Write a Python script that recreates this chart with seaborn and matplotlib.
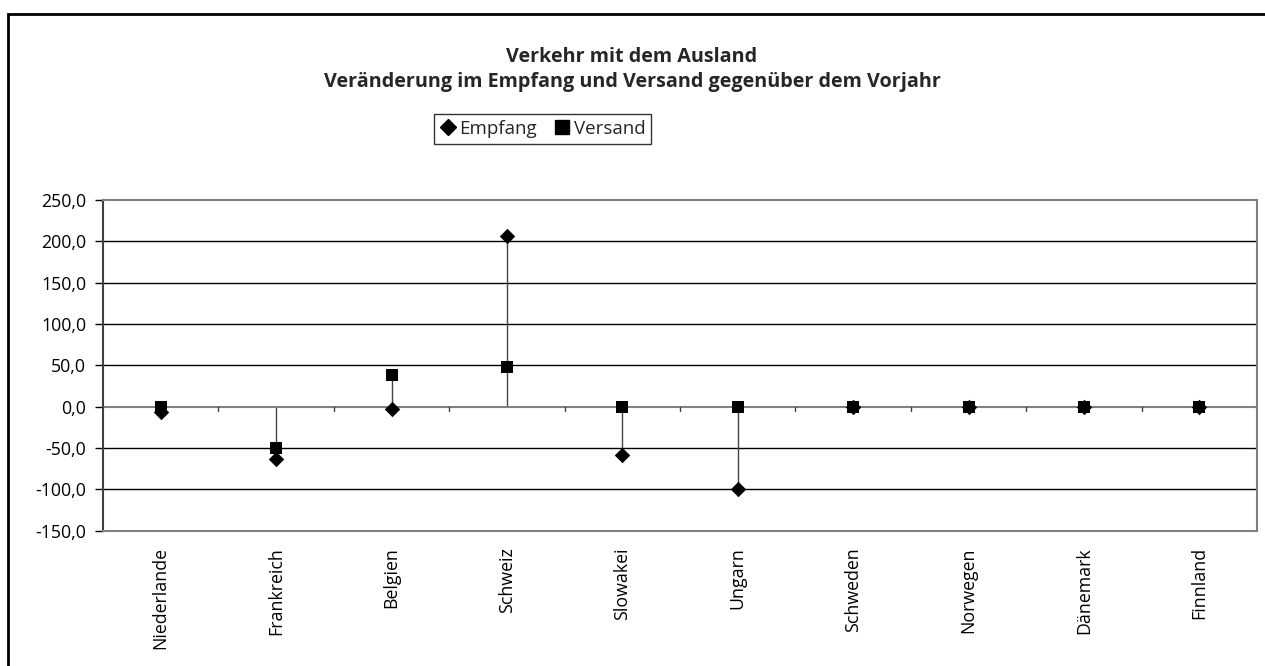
import matplotlib
matplotlib.use("Agg")
import matplotlib.pyplot as plt
from matplotlib.patches import Rectangle
from matplotlib.lines import Line2D
from matplotlib.ticker import FuncFormatter
import seaborn as sns
import pandas as pd
import numpy as np

countries = ["Niederlande", "Frankreich", "Belgien", "Schweiz", "Slowakei",
             "Ungarn", "Schweden", "Norwegen", "Dänemark", "Finnland"]
empfang = [-7, -63, -3, 206, -59, -100, 0, 0, 0, 0]
versand = [-1, -50, 38, 48, 0, 0, 0, 0, 0, 0]
y_ticks = [-150, -100, -50, 0, 50, 100, 150, 200, 250]
title_lines = ["Verkehr mit dem Ausland",
               "Veränderung im Empfang und Versand gegenüber dem Vorjahr"]

sns.set_theme(style="white")
plt.rcParams["font.family"] = ["Open Sans", "DejaVu Sans"]

df = pd.DataFrame({
    "Land": countries * 2,
    "pos": list(range(len(countries))) * 2,
    "Wert": empfang + versand,
    "Serie": ["Empfang"] * len(countries) + ["Versand"] * len(countries),
})

W, H = 1265, 666
fig = plt.figure(figsize=(W / 100, H / 100), dpi=100)
ax = fig.add_axes([103 / W, 1 - 530.5 / H, (1257 - 103) / W, (530.5 - 200) / H])

# grid
for t in y_ticks[1:-1]:
    if t != 0:
        ax.axhline(t, color="black", lw=1.0, zorder=0)

# high-low lines (including zero)
lows = np.minimum(np.minimum(empfang, versand), 0)
highs = np.maximum(np.maximum(empfang, versand), 0)
ax.vlines(range(len(countries)), lows, highs, color="#444444", lw=1.0, zorder=1)

# zero line (category axis) with boundary ticks
ax.axhline(0, color="#808080", lw=1.5, zorder=1)
for b in np.arange(0.5, len(countries) - 0.5, 1.0):
    ax.plot([b, b], [0, -5], color="#404040", lw=1.0, zorder=1)

sns.scatterplot(data=df[df.Serie == "Empfang"], x="pos", y="Wert", marker="D",
                s=62, color="black", edgecolor="black", linewidth=0, ax=ax, zorder=3,
                legend=False)
sns.scatterplot(data=df[df.Serie == "Versand"], x="pos", y="Wert", marker="s",
                s=72, color="black", edgecolor="black", linewidth=0, ax=ax, zorder=4,
                legend=False)

ax.set_xlim(-0.5, len(countries) - 0.5)
ax.set_ylim(-150, 250)
ax.set_xlabel("")
ax.set_ylabel("")
ax.set_yticks(y_ticks)
ax.yaxis.set_major_formatter(FuncFormatter(lambda v, p: f"{v:.1f}".replace(".", ",")))
ax.tick_params(axis="y", direction="out", length=6, width=1, color="black",
               labelsize=12.8, pad=6, left=True, labelcolor="black")
ax.set_xticks(range(len(countries)))
ax.set_xticklabels(countries, rotation=90, va="top", ha="center")
ax.tick_params(axis="x", length=0, pad=12, labelsize=12.8, labelcolor="black")

for s in ["top", "right", "bottom"]:
    ax.spines[s].set_color("#808080")
    ax.spines[s].set_linewidth(1.5)
ax.spines["left"].set_color("#404040")
ax.spines["left"].set_linewidth(1.5)

# titles
fig.text(632 / W, 1 - 62 / H, title_lines[0], ha="center", va="baseline",
         fontsize=14.2, fontweight="bold")
fig.text(632 / W, 1 - 87 / H, title_lines[1], ha="center", va="baseline",
         fontsize=14.2, fontweight="bold")

# legend
handles = [Line2D([], [], marker="D", color="black", ls="none", markersize=8.5),
           Line2D([], [], marker="s", color="black", ls="none", markersize=10)]
leg = fig.legend(handles, ["Empfang", "Versand"], loc="center",
                 bbox_to_anchor=(542.5 / W, 1 - 129 / H), ncol=2,
                 frameon=True, fancybox=False, fontsize=13.5,
                 handlelength=0.9, handletextpad=0.15, columnspacing=0.9,
                 borderpad=0.3, edgecolor="black")
leg.get_frame().set_linewidth(1.0)

# outer chart border
fig.patches.append(Rectangle((8 / W, -0.05), 1.1, 1 - 14 / H + 0.05,
                             transform=fig.transFigure, fill=False,
                             edgecolor="black", lw=2, zorder=10))

fig.savefig("out.png", dpi=100)
